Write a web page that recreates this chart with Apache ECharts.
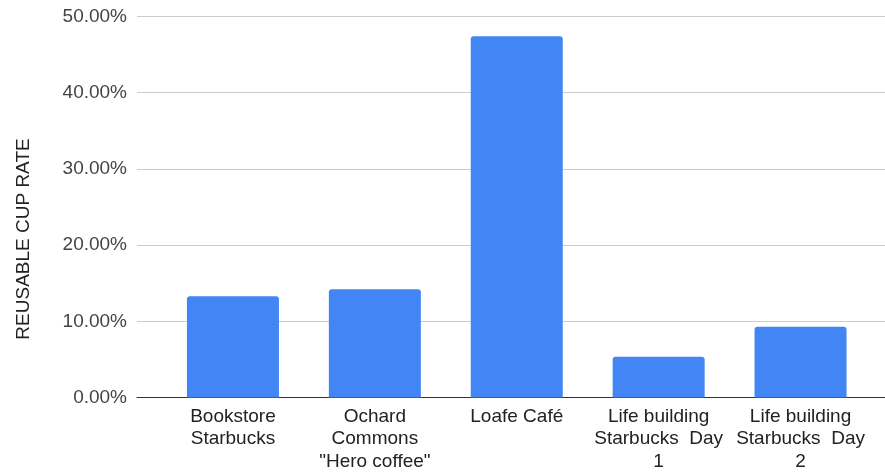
<!DOCTYPE html>
<html>
<head>
<meta charset="utf-8">
<script src="https://cdn.jsdelivr.net/npm/echarts@6/dist/echarts.min.js"></script>
<style>
html,body{margin:0;padding:0;background:#fff;}
#c{width:885px;height:476px;}
</style>
</head>
<body>
<div id="c"></div>
<script>
const categories = ['Bookstore\nStarbucks', 'Ochard\nCommons\n"Hero coffee"', 'Loafe Café', 'Life building\nStarbucks  Day\n1', 'Life building\nStarbucks  Day\n2'];
const reusableRate = [13.3, 14.2, 47.4, 5.35, 9.3];
const yTicks = [0, 10, 20, 30, 40, 50];
const yTitle = 'REUSABLE CUP RATE';

const FONT = '"Liberation Sans", Arial, sans-serif';
const chart = echarts.init(document.getElementById('c'));
chart.setOption({
  animation: false,
  backgroundColor: '#fff',
  grid: [
    {left: 137, right: 0, top: 16.5, bottom: 78.5},
    {left: 162, right: 13.5, top: 16.5, bottom: 78.5}
  ],
  xAxis: [
    {gridIndex: 0, type: 'value', min: 0, max: 1, axisLabel: {show: false}, axisTick: {show: false}, splitLine: {show: false},
     axisLine: {show: true, lineStyle: {color: '#333', width: 1}}},
    {gridIndex: 1, type: 'category', data: categories, axisLine: {show: false}, axisTick: {show: false},
     axisLabel: {interval: 0, margin: 8, color: '#222', fontFamily: FONT, fontSize: 19, lineHeight: 22.5}}
  ],
  yAxis: [
    {gridIndex: 0, type: 'value', min: yTicks[0], max: yTicks[yTicks.length - 1], interval: 10,
     axisLine: {show: false}, axisTick: {show: false},
     axisLabel: {margin: 10, color: '#444', fontFamily: FONT, fontSize: 19, formatter: v => v.toFixed(2) + '%'},
     splitLine: {show: true, lineStyle: {color: '#cccccc', width: 1}}},
    {gridIndex: 1, type: 'value', min: yTicks[0], max: yTicks[yTicks.length - 1], interval: 10, show: false, splitLine: {show: false}}
  ],
  series: [{
    type: 'bar', xAxisIndex: 1, yAxisIndex: 1, data: reusableRate, barWidth: 92,
    itemStyle: {color: '#4285f4', borderRadius: [3, 3, 0, 0]}
  }],
  graphic: [{
    type: 'text', x: 24, y: 239, rotation: Math.PI / 2,
    style: {text: yTitle, fill: '#222', font: '19px ' + FONT, align: 'center', verticalAlign: 'middle'}
  }]
});
</script>
</body>
</html>
